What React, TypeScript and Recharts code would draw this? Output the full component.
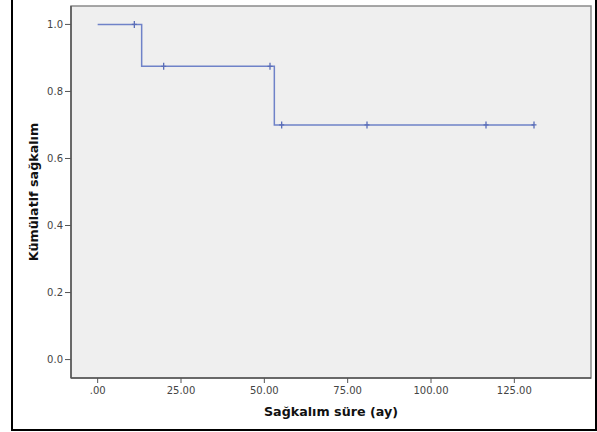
import {
  ComposedChart,
  Line,
  Scatter,
  XAxis,
  YAxis,
  ReferenceArea,
} from "recharts";

// survival curve steps (time in months, cumulative survival)
const stepTimes = [0, 13.2, 53, 130.9];
const stepSurvival = [1.0, 0.875, 0.7, 0.7];

// censored observations
const censorTimes = [11, 19.8, 51.7, 55.2, 80.8, 116.5, 130.9];
const censorSurvival = [1.0, 0.875, 0.875, 0.7, 0.7, 0.7, 0.7];

const xTicks = [0, 25, 50, 75, 100, 125];
const yTicks = [0, 0.2, 0.4, 0.6, 0.8, 1.0];

const steps = stepTimes.map((t, i) => ({ t, s: stepSurvival[i] }));
const censors = censorTimes.map((t, i) => ({ t, s: censorSurvival[i] }));

const LINE = "#6f82c8";
const AXIS = "#555";
const FONT = "'DejaVu Sans', sans-serif";

const CensorMark = (props: any) => {
  const { cx, cy } = props;
  if (cx == null || cy == null) return null;
  return (
    <path
      d={`M${cx},${cy - 3.5}V${cy + 3.5}M${cx - 2.5},${cy}H${cx + 2.5}`}
      stroke="#5a6db8"
      strokeWidth={1.3}
      fill="none"
    />
  );
};

const fmtX = (v: number) => (v === 0 ? ".00" : v.toFixed(2));

const App = () => {
  return (
    <div
      style={{
        position: "absolute",
        left: 0,
        top: 0,
        width: 597,
        height: 432,
        background: "#fff",
        overflow: "hidden",
      }}
    >
      <div
        style={{
          position: "absolute",
          left: 11,
          top: -10,
          width: 586,
          height: 441,
          border: "2px solid #000",
          boxSizing: "border-box",
        }}
      />
      <ComposedChart
        width={597}
        height={432}
        margin={{ top: 6, right: 6, bottom: 0, left: 0 }}
        style={{ position: "absolute", left: 0, top: 0 }}
      >
        <ReferenceArea
          x1={-8}
          x2={148}
          y1={-0.055}
          y2={1.055}
          fill="#efefef"
          fillOpacity={1}
          stroke="#8a8a8a"
          strokeWidth={1.5}
        />
        <XAxis
          dataKey="t"
          type="number"
          domain={[-8, 148]}
          ticks={xTicks}
          allowDataOverflow
          tickFormatter={fmtX}
          height={54}
          tickSize={5}
          tickMargin={4}
          axisLine={{ stroke: AXIS, strokeWidth: 1.5 }}
          tickLine={{ stroke: AXIS }}
          tick={{ fill: "#444", fontSize: 10, fontFamily: FONT }}
          label={{
            content: (p: any) => {
              const vb = p.viewBox;
              return (
                <text
                  x={vb.x + vb.width / 2}
                  y={411}
                  textAnchor="middle"
                  dominantBaseline="central"
                  fontFamily={FONT}
                  fontWeight="bold"
                  fontSize={12.7}
                  fill="#111"
                >
                  Sağkalım süre (ay)
                </text>
              );
            },
          }}
        />
        <YAxis
          dataKey="s"
          type="number"
          domain={[-0.055, 1.055]}
          ticks={yTicks}
          allowDataOverflow
          tickFormatter={(v: number) => v.toFixed(1)}
          width={71}
          tickSize={6}
          tickMargin={2}
          axisLine={{ stroke: AXIS, strokeWidth: 1.5 }}
          tickLine={{ stroke: AXIS }}
          tick={{ fill: "#444", fontSize: 10, fontFamily: FONT }}
          label={{
            content: (p: any) => {
              const vb = p.viewBox;
              const cy = vb.y + vb.height / 2;
              return (
                <text
                  x={33}
                  y={cy}
                  transform={`rotate(-90, 33, ${cy})`}
                  textAnchor="middle"
                  dominantBaseline="central"
                  fontFamily={FONT}
                  fontWeight="bold"
                  fontSize={12.7}
                  fill="#111"
                >
                  Kümülatif sağkalım
                </text>
              );
            },
          }}
        />
        <Line
          data={steps}
          dataKey="s"
          type="stepAfter"
          stroke={LINE}
          strokeWidth={1.5}
          dot={false}
          activeDot={false}
          isAnimationActive={false}
        />
        <Scatter
          data={censors}
          dataKey="s"
          shape={<CensorMark />}
          isAnimationActive={false}
        />
      </ComposedChart>
    </div>
  );
};

export default App;
